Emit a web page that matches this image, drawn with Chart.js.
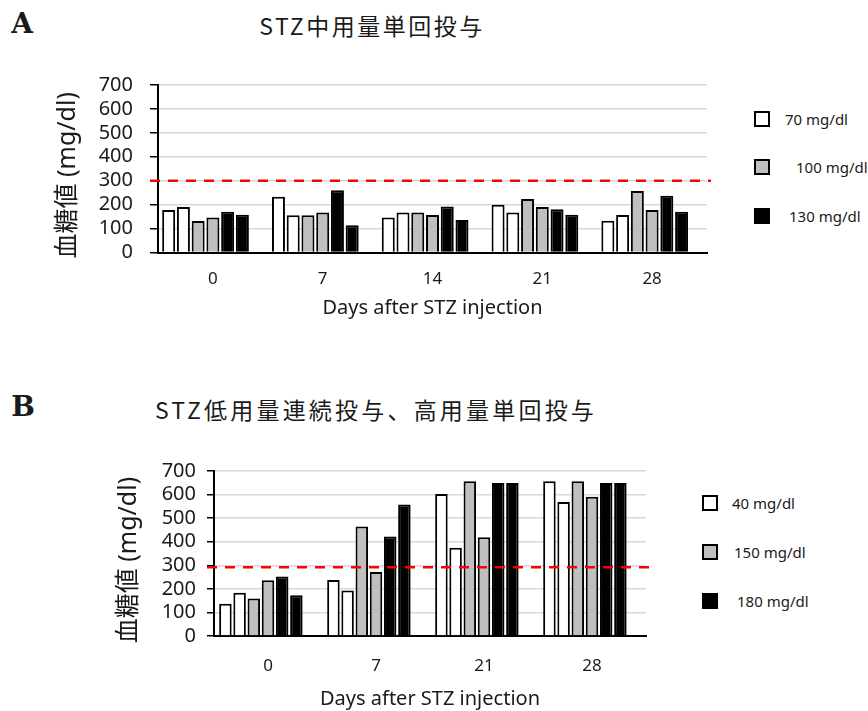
<!DOCTYPE html>
<html>
<head>
<meta charset="utf-8">
<script src="https://cdn.jsdelivr.net/npm/chart.js@4.4.1/dist/chart.umd.min.js"></script>
<style>
  body { margin: 0; width: 868px; height: 711px; background: #fff; position: relative; overflow: hidden;
         font-family: "Noto Sans", "Noto Sans CJK JP", sans-serif; color: #1a1a1a; }
  canvas { position: absolute; }
  .letter { position: absolute; font-family: "DejaVu Serif", serif; font-weight: bold; font-size: 28px;
            line-height: 1; transform: translate(-50%, -50%); }
  .title { position: absolute; font-family: "Noto Sans CJK JP", sans-serif; font-size: 23px; line-height: 1;
           white-space: nowrap; transform: translate(-50%, -50%); }
  .swatch { position: absolute; width: 12px; height: 12px; border: 2.5px solid #000; transform: translateY(-50%); }
  .lbl { position: absolute; font-size: 15px; line-height: 1; white-space: nowrap; transform: translateY(-50%); }
</style>
</head>
<body>
<div class="letter" style="left:22px; top:24px">A</div>
<div class="title" id="titleA" style="left:372px; top:25px; letter-spacing:2.5px"></div>
<canvas id="chartA" width="720" height="250" style="left:0; top:70px"></canvas>

<div class="letter" style="left:23px; top:407px">B</div>
<div class="title" id="titleB" style="left:376px; top:409px; letter-spacing:3.2px"></div>
<canvas id="chartB" width="660" height="271" style="left:0; top:440px"></canvas>

<div id="legendA"></div>
<div id="legendB"></div>

<script>
// --- データ ---
var titleA = 'STZ中用量単回投与';
var titleB = 'STZ低用量連続投与、高用量単回投与';
var xTitle = 'Days after STZ injection';
var yTitle = '血糖値 (mg/dl)';

// A: 中用量単回投与
var daysA = ['0', '7', '14', '21', '28'];
var a70_1  = [178, 233, 146, 200, 133];
var a70_2  = [190, 156, 167, 167, 157];
var a100_1 = [132, 156, 167, 224, 257];
var a100_2 = [146, 167, 157, 190, 178];
var a130_1 = [170, 260, 192, 181, 237];
var a130_2 = [158, 114, 136, 158, 170];
var legendLabelsA = ['70 mg/dl', '100 mg/dl', '130 mg/dl'];
var thresholdA = 300;

// B: 低用量連続投与、高用量単回投与
var daysB = ['0', '7', '21', '28'];
var b40_1  = [137, 238, 602, 657];
var b40_2  = [183, 193, 374, 568];
var b150_1 = [159, 465, 657, 657];
var b150_2 = [237, 272, 419, 591];
var b180_1 = [252, 422, 649, 649];
var b180_2 = [173, 558, 649, 649];
var legendLabelsB = ['40 mg/dl', '150 mg/dl', '180 mg/dl'];
var thresholdB = 292;

var yTicks = [0, 100, 200, 300, 400, 500, 600, 700];

// --- 見た目 ---
var WHITE = '#ffffff', GRAY = '#bfbfbf', BLACK = '#000000';
var TEXT = '#1a1a1a';

Chart.defaults.font.family = '"Noto Sans", "Noto Sans CJK JP", sans-serif';
Chart.defaults.color = TEXT;

document.getElementById('titleA').textContent = titleA;
document.getElementById('titleB').textContent = titleB;

function bars(label, data, fill) {
    return { label: label, data: data, backgroundColor: fill, borderColor: '#000', borderWidth: 2 };
}

// 赤い破線 (300 mg/dl)
var thresholdLine = {
    id: 'thresholdLine',
    afterDatasetsDraw: function (chart, args, opts) {
        var area = chart.chartArea;
        var y = chart.scales.y.getPixelForValue(opts.value);
        var ctx = chart.ctx;
        ctx.save();
        ctx.strokeStyle = '#ff0000';
        ctx.lineWidth = 2.5;
        ctx.setLineDash([10, 8]);
        ctx.beginPath();
        ctx.moveTo(area.left - opts.before, y);
        ctx.lineTo(area.right + opts.after, y);
        ctx.stroke();
        ctx.restore();
    }
};

function chartOptions(s) {
    return {
        responsive: false,
        animation: false,
        layout: { padding: { left: 0, top: s.top, right: s.right, bottom: 0 } },
        plugins: {
            legend: { display: false },
            tooltip: { enabled: false },
            thresholdLine: { value: s.threshold, before: s.tick, after: 4 }
        },
        datasets: { bar: { categoryPercentage: s.cat, barPercentage: 0.88 } },
        scales: {
            x: {
                grid: { display: false, drawTicks: false },
                border: { color: '#000', width: 2 },
                ticks: { padding: s.xPad, font: { size: 17 } },
                title: { display: true, text: xTitle, font: { size: 20 }, padding: { top: 0, bottom: 0 } },
                afterFit: function (scale) { scale.height = s.xHeight; }
            },
            y: {
                min: 0,
                max: 700,
                afterBuildTicks: function (scale) { scale.ticks = yTicks.map(function (v) { return { value: v }; }); },
                ticks: { padding: s.yPad, font: { size: 20 }, autoSkip: false },
                grid: { color: '#d9d9d9', lineWidth: 1.5, tickColor: '#000', tickLength: s.tick },
                border: { color: '#000', width: 2 },
                title: { display: true, text: yTitle + '  ', font: { size: 25 }, padding: { top: s.titlePad } },
                afterFit: function (scale) {
                    scale.width = s.yWidth;
                    scale.paddingTop = 0;
                    scale.paddingBottom = 0;
                }
            }
        }
    };
}

// 7番目の空データは Excel と同じ間隔を保つため
new Chart(document.getElementById('chartA'), {
    type: 'bar',
    data: {
        labels: daysA,
        datasets: [
            bars(legendLabelsA[0], a70_1, WHITE), bars(legendLabelsA[0], a70_2, WHITE),
            bars(legendLabelsA[1], a100_1, GRAY), bars(legendLabelsA[1], a100_2, GRAY),
            bars(legendLabelsA[2], a130_1, BLACK), bars(legendLabelsA[2], a130_2, BLACK),
            { label: '', data: [] }
        ]
    },
    options: chartOptions({ top: 15, right: 13, threshold: thresholdA, tick: 8, cat: 0.94,
                            xPad: 16, xHeight: 67.5, yPad: 17, yWidth: 158, titlePad: 53 }),
    plugins: [thresholdLine]
});

new Chart(document.getElementById('chartB'), {
    type: 'bar',
    data: {
        labels: daysB,
        datasets: [
            bars(legendLabelsB[0], b40_1, WHITE), bars(legendLabelsB[0], b40_2, WHITE),
            bars(legendLabelsB[1], b150_1, GRAY), bars(legendLabelsB[1], b150_2, GRAY),
            bars(legendLabelsB[2], b180_1, BLACK), bars(legendLabelsB[2], b180_2, BLACK),
            { label: '', data: [] }
        ]
    },
    options: chartOptions({ top: 31, right: 14, threshold: thresholdB, tick: 7, cat: 0.92,
                            xPad: 20, xHeight: 75, yPad: 11, yWidth: 214, titlePad: 114 }),
    plugins: [thresholdLine]
});

// 凡例
function legend(el, labels, boxX, rows, textX) {
    var fills = [WHITE, GRAY, BLACK];
    var html = '';
    for (var i = 0; i < labels.length; i++) {
        html += '<div class="swatch" style="left:' + boxX + 'px; top:' + rows[i] + 'px; background:' + fills[i] + '"></div>';
        html += '<div class="lbl" style="left:' + textX[i] + 'px; top:' + rows[i] + 'px">' + labels[i] + '</div>';
    }
    document.getElementById(el).innerHTML = html;
}
legend('legendA', legendLabelsA, 754, [119, 167, 216], [785, 796, 789]);
legend('legendB', legendLabelsB, 702, [503, 552, 601], [732, 734, 737]);
</script>
</body>
</html>
